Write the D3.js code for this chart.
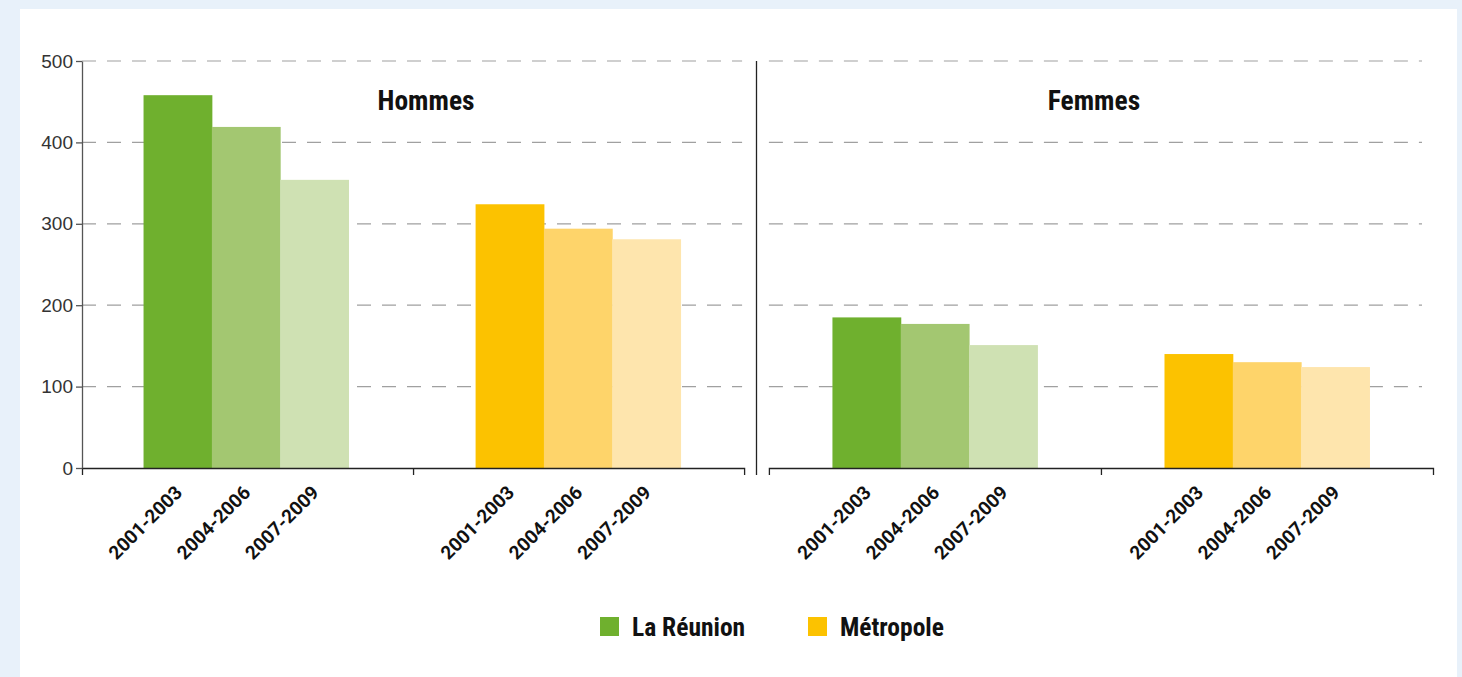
<!DOCTYPE html>
<html>
<head>
<meta charset="utf-8">
<script src="https://cdn.jsdelivr.net/npm/d3@7"></script>
<style>
  body { margin: 0; background: #e8f1fa; }
  .cond { font-family: "Roboto Condensed", "Liberation Sans Narrow", "Arial Narrow", Roboto, sans-serif; font-weight: bold; }
  .ylab text { font-family: "Liberation Sans", Arial, sans-serif; font-size: 19px; fill: #333; }
</style>
</head>
<body>
<div id="chart"></div>
<script>
// data
const panels = ["Hommes", "Femmes"];
const groups = ["La Réunion", "Métropole"];
const periods = ["2001-2003", "2004-2006", "2007-2009"];
const hommesReunion = [458, 419, 354];
const hommesMetropole = [324, 294, 281];
const femmesReunion = [185, 177, 151];
const femmesMetropole = [140, 130, 124];
const yTicks = [0, 100, 200, 300, 400, 500];

const values = {
  Hommes: { "La Réunion": hommesReunion, "Métropole": hommesMetropole },
  Femmes: { "La Réunion": femmesReunion, "Métropole": femmesMetropole }
};

const shades = {
  "La Réunion": ["#6fb02e", "#a3c771", "#cfe1b3"],
  "Métropole": ["#fcc200", "#fed46a", "#fee5ad"]
};

const width = 1462, height = 677;
const plotTop = 61, plotBottom = 468;
const titleNudge = [14, -7];

const svg = d3.select("#chart").append("svg")
  .attr("width", width).attr("height", height)
  .style("display", "block");

// white card
svg.append("rect").attr("x", 20).attr("y", 9)
  .attr("width", 1437).attr("height", height - 9).attr("fill", "#fff");

const yScale = d3.scaleLinear().domain([0, 500]).range([plotBottom, plotTop]);

const panelScale = d3.scaleBand().domain(panels).range([80, 1433]).paddingInner(0.036);

panels.forEach((p, pi) => {
  const x0 = panelScale(p), x1 = x0 + panelScale.bandwidth();
  const g = svg.append("g");

  // gridlines
  g.selectAll("line.grid").data(yTicks.slice(1)).enter().append("line")
    .attr("x1", pi === 0 ? 82 : x0)
    .attr("x2", pi === 0 ? x1 - 2 : x1 - 11)
    .attr("y1", d => yScale(d)).attr("y2", d => yScale(d))
    .attr("stroke", "#a0a0a0").attr("stroke-width", 1.2)
    .attr("stroke-dasharray", "14,11");

  const groupScale = d3.scaleBand().domain(groups).range([x0, x1]);
  const periodScale = d3.scaleBand().domain(periods)
    .range([0, groupScale.bandwidth()]).paddingOuter(0.93);

  groups.forEach(gr => {
    const gx = groupScale(gr);
    g.selectAll(null).data(values[p][gr]).enter().append("rect")
      .attr("x", (d, i) => gx + periodScale(periods[i]))
      .attr("y", d => yScale(d))
      .attr("width", periodScale.bandwidth() + 0.5)
      .attr("height", d => plotBottom - yScale(d))
      .attr("fill", (d, i) => shades[gr][i]);

    g.selectAll(null).data(periods).enter().append("text")
      .attr("transform", d => {
        const cx = gx + periodScale(d) + periodScale.bandwidth() / 2 + 1;
        return "translate(" + cx + "," + (plotBottom + 21) + ") rotate(-45)";
      })
      .attr("text-anchor", "end")
      .attr("dy", "0.35em")
      .style("font-family", "Roboto, sans-serif")
      .style("font-weight", "bold")
      .style("font-size", "19px")
      .attr("fill", "#111")
      .text(d => d);
  });

  // x axis with tick between groups
  const xs = d3.scaleLinear().domain([0, groups.length]).range([pi === 0 ? 82 : x0, x1]);
  g.append("g")
    .attr("transform", "translate(0," + plotBottom + ")")
    .call(d3.axisBottom(xs).tickValues([1]).tickFormat("").tickSize(7).tickSizeOuter(7))
    .call(a => a.selectAll("path, line").attr("stroke", "#222").attr("stroke-width", 1.3));

  // panel title
  g.append("text")
    .attr("class", "cond")
    .attr("x", (x0 + x1) / 2 + titleNudge[pi])
    .attr("y", 110)
    .attr("text-anchor", "middle")
    .style("font-size", "27.5px")
    .attr("fill", "#111")
    .text(p);
});

// y axis
svg.append("g")
  .attr("class", "ylab")
  .attr("transform", "translate(82,0)")
  .call(d3.axisLeft(yScale).tickValues(yTicks).tickSize(6).tickSizeOuter(0).tickPadding(3))
  .call(a => a.selectAll("path, line").attr("stroke", "#555").attr("stroke-width", 1.3));

// divider between panels
const divX = (panelScale("Hommes") + panelScale.bandwidth() + panelScale("Femmes")) / 2;
svg.append("line")
  .attr("x1", divX).attr("x2", divX)
  .attr("y1", plotTop).attr("y2", plotBottom + 7)
  .attr("stroke", "#222").attr("stroke-width", 1.3);

// legend
const legendX = [600, 808];
groups.forEach((gr, i) => {
  svg.append("rect")
    .attr("x", legendX[i]).attr("y", 617)
    .attr("width", 19).attr("height", 19)
    .attr("fill", shades[gr][0]);
  svg.append("text")
    .attr("class", "cond")
    .attr("x", legendX[i] + 32).attr("y", 636)
    .style("font-size", "25.5px")
    .attr("fill", "#111")
    .text(gr);
});
</script>
</body>
</html>
